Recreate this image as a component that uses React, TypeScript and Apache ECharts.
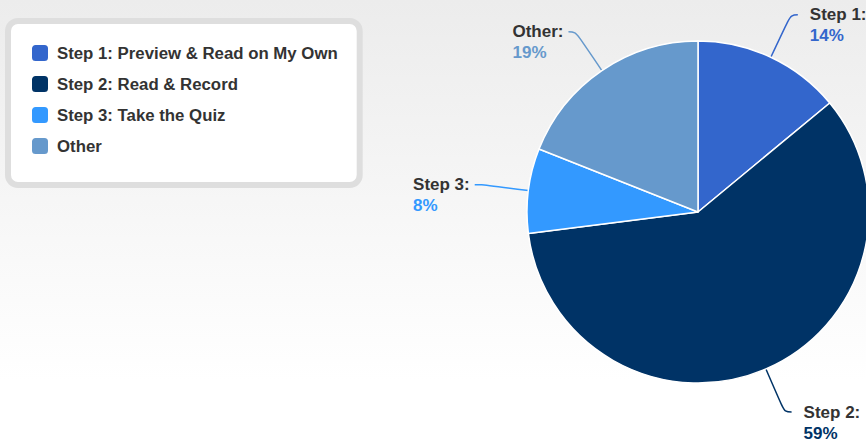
import React, { useEffect, useRef } from "react";
import * as echarts from "echarts";

const categories = [
  "Step 1: Preview & Read on My Own",
  "Step 2: Read & Record",
  "Step 3: Take the Quiz",
  "Other",
];
const shortLabels = ["Step 1:", "Step 2:", "Step 3:", "Other:"];
const values = [14, 59, 8, 19];
const colors = ["#3366cc", "#003366", "#3399ff", "#6699cc"];

const FONT = "'Liberation Sans', Arial, Helvetica, sans-serif";

export default function App() {
  const ref = useRef<HTMLDivElement>(null);
  useEffect(() => {
    if (!ref.current) return;
    const chart = echarts.init(ref.current, undefined, { renderer: "svg" });
    const rich: any = {
      a: { fontSize: 17, fontWeight: "bold", color: "#333333", lineHeight: 21, align: "left", fontFamily: FONT },
    };
    colors.forEach((c, i) => {
      rich["c" + i] = { fontSize: 17, fontWeight: "bold", color: c, lineHeight: 21, align: "left", fontFamily: FONT };
    });
    const rightSide = [true, true, false, false];
    chart.setOption({
      animation: false,
      backgroundColor: {
        type: "linear",
        x: 0,
        y: 0,
        x2: 0,
        y2: 1,
        colorStops: [
          { offset: 0, color: "#ececec" },
          { offset: 0.86, color: "#ffffff" },
          { offset: 1, color: "#ffffff" },
        ],
      },
      textStyle: { fontFamily: FONT },
      legend: {
        orient: "vertical",
        left: 8,
        top: 21,
        padding: [22, 22, 29, 22],
        itemWidth: 18,
        itemHeight: 18,
        itemGap: 11,
        icon: "roundRect",
        backgroundColor: "#ffffff",
        borderColor: "#dedede",
        borderWidth: 6,
        borderRadius: 10,
        textStyle: {
          fontSize: 16.8,
          fontWeight: "bold",
          color: "#333333",
          fontFamily: FONT,
          padding: [0, 0, 0, 3],
        },
        data: categories,
      },
      series: [
        {
          type: "pie",
          center: [698, 212],
          radius: 171,
          startAngle: 90,
          clockwise: true,
          avoidLabelOverlap: false,
          itemStyle: { borderColor: "#ffffff", borderWidth: 1.5 },
          label: {
            show: true,
            position: "outside",
            padding: [21, 0, 0, 0],
            rich,
            formatter: (p: any) =>
              `{a|${shortLabels[p.dataIndex]}}\n{c${p.dataIndex}|${Math.round(p.percent)}%}`,
          },
          labelLine: {
            show: true,
            length: 47,
            length2: 7,
            smooth: 0.4,
            lineStyle: { width: 1.5 },
          },
          emphasis: { disabled: true },
          data: categories.map((name, i) => ({
            name,
            value: values[i],
            itemStyle: { color: colors[i] },
            labelLine: { lineStyle: { color: colors[i] } },
            label: rightSide[i]
              ? { distanceToLabelLine: 12, width: 70 }
              : { distanceToLabelLine: 5 },
          })),
        },
      ],
    });
    return () => chart.dispose();
  }, []);
  return (
    <div
      ref={ref}
      style={{ position: "absolute", left: 0, top: 0, width: 866, height: 442 }}
    />
  );
}
